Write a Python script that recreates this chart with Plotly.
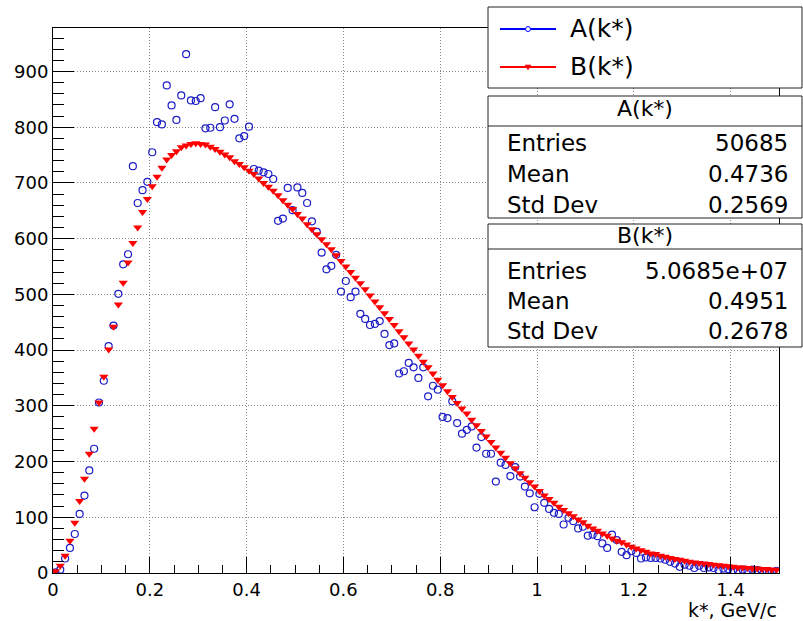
import numpy as np
import plotly.graph_objects as go

# Histogram binning: 150 bins of width 0.01 GeV/c on [0, 1.5]
N_BINS, K_LO, K_HI = 150, 0.0, 1.5
edges = np.linspace(K_LO, K_HI, N_BINS + 1)
k_centers = 0.5 * (edges[:-1] + edges[1:])

# A(k*) bin contents
a_counts = [
    1, 6, 26, 45, 70, 106, 139, 184, 223, 306,
    345, 407, 444, 501, 554, 572, 730, 664, 687, 702,
    755, 809, 805, 875, 839, 813, 857, 931, 848, 847,
    852, 798, 799, 836, 800, 812, 841, 815, 780, 784,
    801, 725, 722, 719, 716, 707, 632, 636, 691, 651,
    692, 682, 664, 631, 612, 575, 545, 551, 571, 505,
    524, 495, 505, 465, 456, 445, 447, 452, 429, 409,
    412, 358, 362, 377, 369, 350, 369, 317, 336, 329,
    280, 278, 308, 269, 250, 257, 263, 225, 244, 214,
    214, 164, 198, 194, 174, 190, 173, 155, 143, 118,
    142, 126, 115, 108, 106, 87, 99, 93, 80, 83,
    67, 69, 66, 53, 45, 69, 59, 38, 32, 39,
    36, 26, 28, 27, 27, 26, 24, 20, 17, 11,
    15, 13, 9, 13, 9, 10, 9, 5, 8, 7,
    5, 4, 6, 3, 6, 5, 3, 3, 2, 4,
]

# B(k*) bin contents, normalised to the A(k*) entries
b_counts = [
    3, 13, 31, 58, 90, 129, 169, 214, 259, 306,
    352, 401, 442, 482, 521, 557, 592, 620, 648, 671,
    694, 711, 727, 742, 750, 757, 764, 767, 770, 771,
    770, 769, 765, 761, 756, 751, 746, 739, 734, 728,
    722, 716, 708, 700, 693, 686, 678, 669, 661, 653,
    644, 636, 626, 617, 608, 599, 590, 581, 570, 560,
    550, 540, 530, 520, 509, 498, 487, 477, 466, 456,
    445, 434, 423, 412, 401, 390, 379, 369, 358, 347,
    337, 326, 316, 305, 295, 286, 275, 265, 255, 245,
    235, 225, 216, 207, 197, 188, 179, 171, 163, 155,
    147, 139, 133, 126, 119, 113, 107, 102, 96, 91,
    85, 80, 76, 71, 67, 62, 58, 55, 51, 47,
    44, 41, 38, 35, 34, 31, 29, 27, 25, 24,
    22, 20, 19, 18, 17, 16, 15, 14, 13, 12,
    11, 10, 10, 9, 8, 8, 7, 7, 6, 6,
]

stats_rows = {
    "A(k*)": [("Entries", "50685"), ("Mean", "0.4736"), ("Std Dev", "0.2569")],
    "B(k*)": [("Entries", "5.0685e+07"), ("Mean", "0.4951"), ("Std Dev", "0.2678")],
}

BLUE = "#1c1cc8"
RED = "#ff0000"
FONT = "DejaVu Sans"

W, H = 803, 621
ML, MR, MT, MB = 53, 24, 28, 48
PW, PH = W - ML - MR, H - MT - MB


def px(x):
    """Horizontal pixel -> paper coordinate."""
    return (x - ML) / PW


def py(y):
    """Vertical pixel (from top) -> paper coordinate."""
    return (H - MB - y) / PH


fig = go.Figure()
fig.add_trace(go.Scatter(
    x=k_centers, y=a_counts, mode="markers", name="A(k*)", showlegend=False,
    marker=dict(symbol="circle-open", size=7, color=BLUE, line=dict(width=1.2)),
))
fig.add_trace(go.Scatter(
    x=k_centers, y=b_counts, mode="markers", name="B(k*)", showlegend=False,
    marker=dict(symbol="triangle-down", size=8, color=RED, line=dict(width=0)),
))

shapes, annots = [], []


def box(x0, y0, x1, y1):
    shapes.append(dict(type="rect", xref="paper", yref="paper",
                       x0=px(x0), x1=px(x1), y0=py(y1), y1=py(y0),
                       fillcolor="white", line=dict(color="#222", width=1),
                       layer="above"))


def text(s, x, y, size, anchor="left"):
    annots.append(dict(text=s, xref="paper", yref="paper", x=px(x), y=py(y),
                       xanchor=anchor, yanchor="middle", showarrow=False,
                       font=dict(family=FONT, size=size, color="black")))


# Legend box
box(488, 7, 802, 88)
for label, yc, colour, sym in [("A(k*)", 29, "#0000ff", "circle"), ("B(k*)", 67, RED, "tri")]:
    shapes.append(dict(type="line", xref="paper", yref="paper",
                       x0=px(500), x1=px(556), y0=py(yc), y1=py(yc),
                       line=dict(color=colour, width=2), layer="above"))
    if sym == "circle":
        shapes.append(dict(type="circle", xref="paper", yref="paper",
                           x0=px(525.5), x1=px(530.5), y0=py(yc + 2.5), y1=py(yc - 2.5),
                           fillcolor="white", line=dict(color=colour, width=1), layer="above"))
    else:
        path = "M {} {} L {} {} L {} {} Z".format(px(525), py(yc - 2), px(531), py(yc - 2),
                                                  px(528), py(yc + 3))
        shapes.append(dict(type="path", xref="paper", yref="paper", path=path,
                           fillcolor=colour, line=dict(color=colour, width=0.5), layer="above"))
    text(label, 568, yc, 25)

# Statistics boxes
for (title, rows), (y0, ysep, y1, ytitle, yrows) in zip(
        stats_rows.items(),
        [(96, 126, 218, 108.5, [142.5, 174, 204.5]),
         (224, 249, 347, 235.5, [271, 301, 331])]):
    box(488, y0, 802, y1)
    shapes.append(dict(type="line", xref="paper", yref="paper",
                       x0=px(488), x1=px(802), y0=py(ysep), y1=py(ysep),
                       line=dict(color="#222", width=1), layer="above"))
    text(title, 645, ytitle, 22, "center")
    for (name, val), yr in zip(rows, yrows):
        text(name, 505, yr, 23, "left")
        text(val, 790, yr, 23, "right")

# Axis title
text("k*, GeV/c", 779, 610, 19, "right")

axis_common = dict(
    showline=True, linecolor="black", linewidth=1, mirror=True,
    ticks="inside", tickcolor="black", tickwidth=1,
    showgrid=True, gridcolor="#8a8a8a", gridwidth=1, griddash="1px,2px",
    zeroline=False, tickfont=dict(family=FONT, size=18, color="black"),
)

fig.update_layout(
    width=W, height=H, margin=dict(l=ML, r=MR, t=MT, b=MB),
    paper_bgcolor="white", plot_bgcolor="white",
    font=dict(family=FONT, color="black"),
    showlegend=False,
    xaxis=dict(range=[K_LO, K_HI], tick0=0, dtick=0.2, ticklen=16,
               minor=dict(ticks="inside", ticklen=8, dtick=0.05, tickcolor="black", showgrid=False),
               **axis_common),
    yaxis=dict(range=[0, 978], tick0=0, dtick=100, ticklen=21,
               minor=dict(ticks="inside", ticklen=11, dtick=20, tickcolor="black", showgrid=False),
               **axis_common),
    shapes=shapes, annotations=annots,
)

fig.write_html("out.html")
